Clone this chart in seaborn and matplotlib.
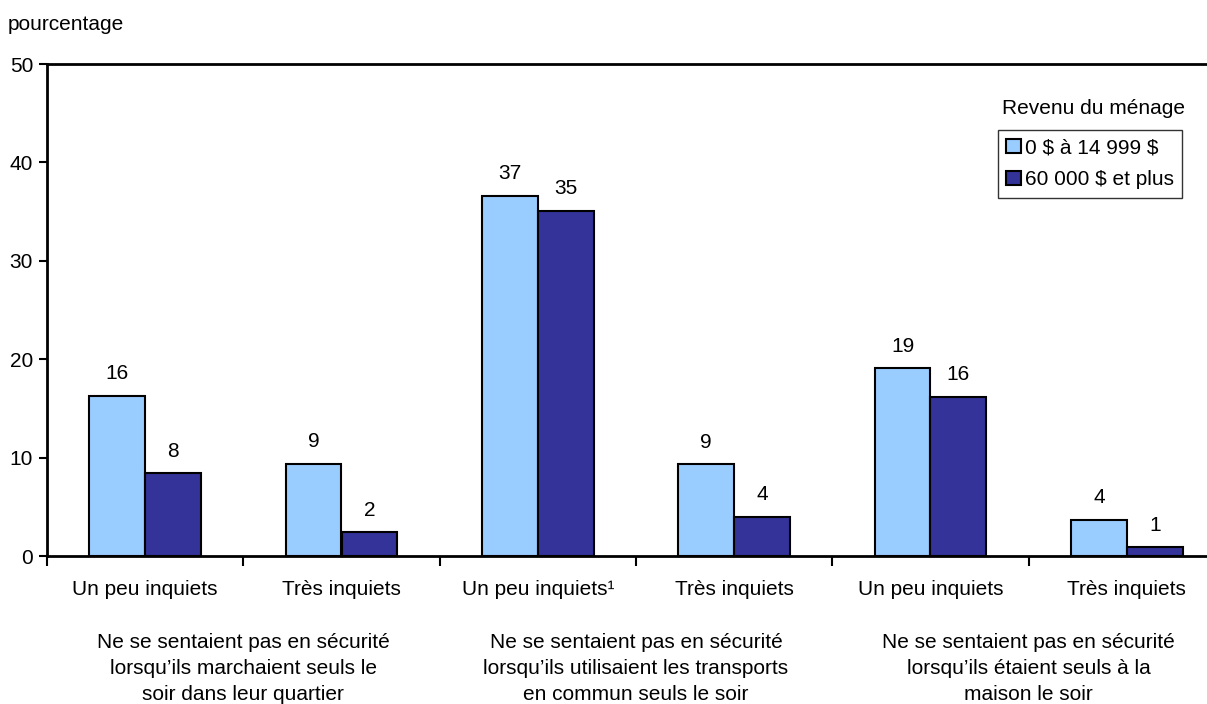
import pandas as pd
import matplotlib.pyplot as plt
import seaborn as sns

# Data
categories = ["Un peu inquiets", "Très inquiets", "Un peu inquiets¹",
              "Très inquiets", "Un peu inquiets", "Très inquiets"]
low_income = [16.3, 9.4, 36.6, 9.3, 19.1, 3.7]
high_income = [8.4, 2.4, 35.1, 4.0, 16.2, 0.9]
series_names = [r"0 \$ à 14 999 \$", r"60 000 \$ et plus"]
group_labels = [
    "Ne se sentaient pas en sécurité\nlorsqu’ils marchaient seuls le\nsoir dans leur quartier",
    "Ne se sentaient pas en sécurité\nlorsqu’ils utilisaient les transports\nen commun seuls le soir",
    "Ne se sentaient pas en sécurité\nlorsqu’ils étaient seuls à la\nmaison le soir",
]

# long format for seaborn (position index keeps duplicate category names apart)
rows = []
for i, cat in enumerate(categories):
    rows.append({"pos": i, "serie": series_names[0], "val": low_income[i]})
    rows.append({"pos": i, "serie": series_names[1], "val": high_income[i]})
df = pd.DataFrame(rows)

sns.set_style("white")
plt.rcParams['font.family'] = ['Liberation Sans', 'DejaVu Sans']
plt.rcParams['text.color'] = 'black'
plt.rcParams['xtick.color'] = 'black'
plt.rcParams['ytick.color'] = 'black'
FS = 15

fig = plt.figure(figsize=(12.07, 7.04), dpi=100)
ax = fig.add_axes([47 / 1207, 1 - 556 / 704, (1225 - 47) / 1207, (556 - 64) / 704])

sns.barplot(data=df, x="pos", y="val", hue="serie", ax=ax,
            palette=["#99CCFF", "#333399"], saturation=1, width=0.57,
            edgecolor="black", linewidth=1.5, legend=True)

for cont in ax.containers:
    ax.bar_label(cont, fmt="%.0f", padding=9, fontsize=FS, color="black")

ax.set_ylim(0, 50)
ax.set_xlim(-0.5, len(categories) - 0.5)
ax.set_yticks([0, 10, 20, 30, 40, 50])
ax.set_xticks(range(len(categories)))
ax.set_xticklabels(categories, fontsize=FS)
ax.set_xticks([i - 0.5 for i in range(len(categories) + 1)], minor=True)
ax.tick_params(axis="x", which="major", length=0, pad=17)
ax.tick_params(axis="x", which="minor", length=7, width=1.5, direction="out", bottom=True)
ax.tick_params(axis="y", length=6, width=1.5, direction="out", left=True, labelsize=FS, pad=4)
ax.set_xlabel("")
ax.set_ylabel("")
for s in ["left", "top", "bottom"]:
    ax.spines[s].set_visible(True)
    ax.spines[s].set_linewidth(2)
    ax.spines[s].set_color("black")
ax.spines["right"].set_visible(False)

for k, lab in enumerate(group_labels):
    ax.text(2 * k + 0.5, -0.157, lab, transform=ax.get_xaxis_transform(),
            ha="center", va="top", fontsize=FS, linespacing=1.45)

fig.text(8 / 1207, 1 - 25 / 704, "pourcentage", fontsize=FS, va="center")

fig.text(1093 / 1207, 1 - 109 / 704, "Revenu du ménage", fontsize=FS,
         ha="center", va="center")
leg = ax.legend(loc="upper left", bbox_to_anchor=(998 / 1207, 1 - 130 / 704),
                bbox_transform=fig.transFigure, fontsize=FS, frameon=True,
                fancybox=False, handlelength=0.7, handleheight=0.7,
                handletextpad=0.2, borderpad=0.4, labelspacing=0.62,
                borderaxespad=0)
leg.get_frame().set_edgecolor("black")
leg.get_frame().set_linewidth(1)
for h in leg.legend_handles:
    h.set_edgecolor("black")
    h.set_linewidth(1.5)

fig.savefig("out.png", dpi=100)
